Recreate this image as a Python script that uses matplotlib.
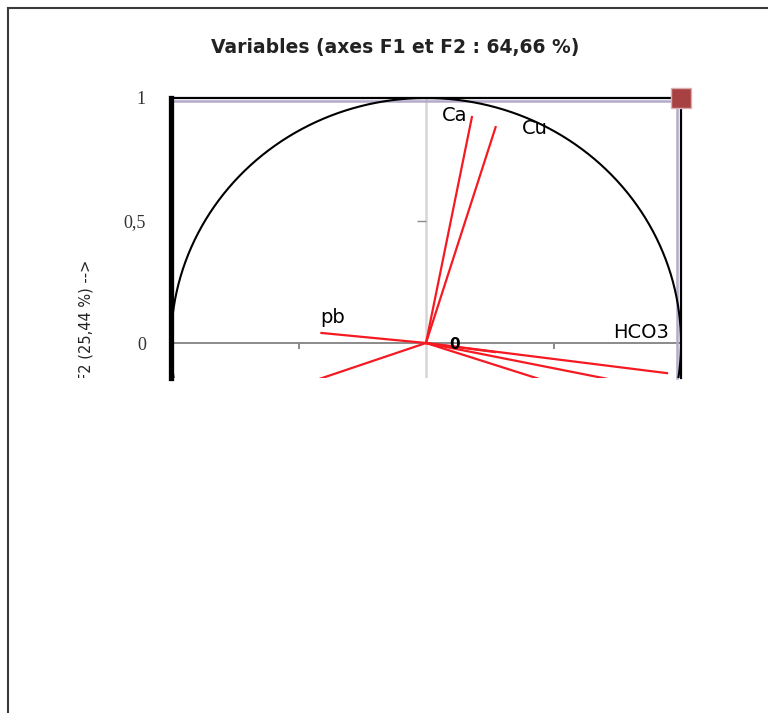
import numpy as np
import matplotlib
matplotlib.use("Agg")
import matplotlib.pyplot as plt
from matplotlib.lines import Line2D
from matplotlib.transforms import Bbox, TransformedBbox

# loadings on F1 / F2 (labelled variables)
var_names = ["Ca", "Cu", "pb", "HCO3"]
f1 = [0.18, 0.273, -0.41, 0.945]
f2 = [0.922, 0.881, 0.041, -0.123]

# other variables whose labels fall outside the visible area
f1_other = [0.27, 0.62, 0.85, -0.55]
f2_other = [-0.037, -0.205, -0.175, -0.193]

title = "Variables (axes F1 et F2 : 64,66 %)"
ylabel = "F2 (25,44 %) -->"
yticks = [0, 0.5, 1]
ytick_labels = ["0", "0,5", "1"]
xticks_mid = [-0.5, 0.5]

W, H = 768, 713
fig = plt.figure(figsize=(W / 100, H / 100), dpi=100)
fig.patch.set_facecolor("white")

# plot area (pixel box), lower part is cut off
left, right, top, bottom = 171, 681, 98, 378
ax = fig.add_axes([left / W, 1 - bottom / H, (right - left) / W, (bottom - top) / H])
ax.set_xlim(-1, 1)
ax.set_ylim(-(bottom - 343) / 245, 1)

ax.spines["bottom"].set_visible(False)
ax.spines["left"].set_linewidth(3.8)
ax.spines["left"].set_color("black")
ax.spines["top"].set_linewidth(1.6)
ax.spines["right"].set_linewidth(1.6)
lav = "#b4aacb"
ax.plot([0, 1], [0.99, 0.99], color=lav, lw=1.8, transform=ax.transAxes, clip_on=False)
ax.plot([0.993, 0.993], [0, 0.99], color=lav, lw=1.8, transform=ax.transAxes, clip_on=False)

# axes through the origin
ax.axhline(0, color="#8a8a8a", lw=1.4, zorder=1)
ax.axvline(0, color="#d6d6d6", lw=1.8, zorder=1)
ax.vlines(xticks_mid, -0.025, 0, color="#8a8a8a", lw=1.4, zorder=1)
ax.hlines([0.5], -0.035, 0, color="#8a8a8a", lw=1.0, zorder=1)

# correlation circle
t = np.linspace(0, 2 * np.pi, 400)
ax.plot(np.cos(t), np.sin(t), color="black", lw=1.5, zorder=2)

# variable vectors
red = "#f51a22"
for x, y in zip(f1 + f1_other, f2 + f2_other):
    ax.plot([0, x], [0, y], color=red, lw=1.6, zorder=3)

offsets = {"Ca": (-17, 2), "Cu": (39, -1), "pb": (11, 15), "HCO3": (-26, 41)}
for name, x, y in zip(var_names, f1, f2):
    ax.annotate(name, (x, y), xytext=offsets[name], textcoords="offset pixels",
                ha="center", va="center", fontsize=14, color="black", zorder=4)
ax.annotate("0", (0, 0), xytext=(29, -1), textcoords="offset pixels",
            ha="center", va="center", fontsize=11, fontweight="bold", zorder=4)

ax.set_xticks([])
ax.set_yticks(yticks)
ax.set_yticklabels(ytick_labels, family="Liberation Serif", fontsize=13, color="#333333")
ax.tick_params(axis="y", length=0, pad=18)

# selection handle at top-right corner
ax.plot([1], [1], marker="s", markersize=14, color="#a84242",
        markeredgecolor="#dcb0b0", markeredgewidth=1, clip_on=False, zorder=6)

fig.text(0.514, 1 - 47 / H, title, ha="center", va="center",
         fontsize=13.5, fontweight="bold", color="#222222")

clip = TransformedBbox(Bbox([[0, 1 - bottom / H], [1, 1]]), fig.transFigure)
yl = fig.text(86 / W, 1 - 260 / H, ylabel, rotation=90, ha="center", va="top",
              fontsize=10.5, color="#222222")
yl.set_clip_on(True)
yl.set_clip_box(clip)

# outer frame (top and left only)
fig.add_artist(Line2D([8 / W, 1], [1 - 8 / H, 1 - 8 / H], color="#3a3a3a", lw=1.5,
                      transform=fig.transFigure))
fig.add_artist(Line2D([8 / W, 8 / W], [0, 1 - 8 / H], color="#3a3a3a", lw=1.5,
                      transform=fig.transFigure))

fig.savefig("out.png", dpi=100)
